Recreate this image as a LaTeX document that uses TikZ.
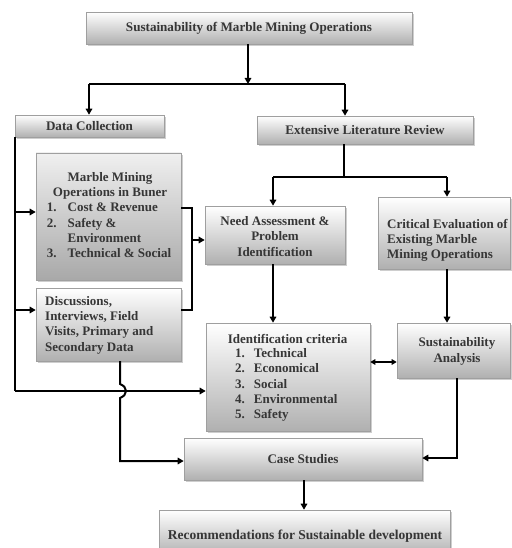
\documentclass[tikz,border=0pt]{standalone}
\usepackage{fontspec}
\setmainfont{Liberation Serif}
\usetikzlibrary{shadows,arrows.meta,calc}
\definecolor{txt}{HTML}{363636}
\tikzset{
  box/.style={draw=gray!75, line width=0.6pt, top color=white, bottom color=gray!62,
    drop shadow={shadow xshift=1.6pt,shadow yshift=-1.6pt,fill=gray!70,opacity=0.55},
    inner sep=0pt, text=txt, font=\fontsize{13.1}{15.3}\selectfont\bfseries},
  lbl/.style={inner sep=0pt, text=txt, font=\fontsize{13}{15.3}\selectfont\bfseries},
  ln/.style={line width=2pt},
  conn/.style={line width=2pt, -{Triangle[length=6pt,width=6.5pt]}},
  dconn/.style={line width=1.5pt, {Triangle[length=5pt,width=5.5pt]}-{Triangle[length=5pt,width=5.5pt]}}
}
\begin{document}
\begin{tikzpicture}[x=1pt,y=-1pt]
\useasboundingbox (0,0) rectangle (511,548);
% boxes
\node[box, minimum width=326pt, minimum height=32pt] (title) at (249,28) {Sustainability of Marble Mining Operations};
\node[box, minimum width=149pt, minimum height=22pt] (dc) at (89.5,126) {Data Collection};
\node[box, minimum width=216pt, minimum height=28pt] (elr) at (365,130) {Extensive Literature Review};
\node[box, minimum width=145pt, minimum height=127pt, top color=gray!12, bottom color=gray!68] (marble) at (108.5,216.5) {};
\node[box, minimum width=145pt, minimum height=73pt] (disc) at (108.5,324.5) {};
\node[box, minimum width=140pt, minimum height=58pt] (need) at (275,235) {};
\node[box, minimum width=132pt, minimum height=72pt] (crit) at (444,233) {};
\node[box, minimum width=164pt, minimum height=108pt] (ident) at (288,377) {};
\node[box, minimum width=113pt, minimum height=55pt] (sust) at (453.5,350.5) {};
\node[box, minimum width=238pt, minimum height=42pt] (case) at (303,459) {Case Studies};
\node[box, minimum width=291pt, minimum height=46pt] (rec) at (304.5,533) {};
% texts
\node[lbl] (marbleT) at (110,216.5) {\begin{tabular}{@{}l@{\hspace{11pt}}l@{}}
\multicolumn{2}{c}{Marble Mining}\\
\multicolumn{2}{c}{Operations in Buner}\\
1.& Cost \& Revenue\\
2.& Safety \&\\
 & Environment\\
3.& Technical \& Social
\end{tabular}};
\node[lbl, align=left, anchor=west] (discT) at (45,325) {Discussions,\\Interviews, Field\\Visits, Primary and\\Secondary Data};
\node[lbl, align=center] (needT) at (275,236.5) {Need Assessment \&\\Problem\\Identification};
\node[lbl, align=left, anchor=west] (critT) at (387,240.5) {Critical Evaluation of\\Existing Marble\\Mining Operations};
\node[lbl] (identH) at (287.5,339) {Identification criteria};
\node[lbl, anchor=west] (identL) at (235,385) {\begin{tabular}{@{}l@{\hspace{9pt}}l@{}}
1.& Technical\\
2.& Economical\\
3.& Social\\
4.& Environmental\\
5.& Safety
\end{tabular}};
\node[lbl, align=center] (sustT) at (457,351.5) {Sustainability\\Analysis};
\node[lbl, font=\fontsize{13.5}{15}\selectfont\bfseries] (recT) at (305,536) {Recommendations for Sustainable development};
% junction coordinates
\coordinate (j1) at (248,84);
\coordinate (j1l) at (89,84);
\coordinate (j1r) at (345,84);
\coordinate (j2) at (344,177);
\coordinate (j2l) at (273,177);
\coordinate (j2r) at (447,177);
\coordinate (spTop) at (15,137);
\coordinate (spA) at (15,212);
\coordinate (spB) at (15,310);
\coordinate (spC) at (15,391);
\coordinate (brA) at (192,208);
\coordinate (brB) at (192,310);
\coordinate (brM) at (192,240);
\coordinate (dTop) at (120,361);
\coordinate (dB1) at (120,384);
\coordinate (dB2) at (120,398);
\coordinate (dBot) at (120,461);
\coordinate (sBot) at (457,458);
% connectors
\draw[conn] (title.south -| j1) -- (j1);
\draw[ln] (j1l) -- (j1r);
\draw[conn] (j1l) -- (j1l |- dc.north);
\draw[conn] (j1r) -- (j1r |- elr.north);
\draw[ln] (spTop) -- (spC);
\draw[conn] (spA) -- (spA -| marble.west);
\draw[conn] (spB) -- (spB -| disc.west);
\draw[conn] (spC) -- (spC -| ident.west);
\draw[ln] (brA -| marble.east) -- (brA) -- (brB) -- (brB -| disc.east);
\draw[conn] (brM) -- (brM -| need.west);
\draw[ln] (elr.south -| j2) -- (j2);
\draw[ln] (j2l) -- (j2r);
\draw[conn] (j2l) -- (j2l |- need.north);
\draw[conn] (j2r) -- (j2r |- crit.north);
\draw[conn] (need.south -| j2l) -- (j2l |- ident.north);
\draw[conn] (crit.south -| j2r) -- (j2r |- sust.north);
\draw[dconn] (ident.east |- 0,362) -- (sust.west |- 0,362);
\draw[conn] (sust.south -| sBot) -- (sBot) -- (sBot -| case.east);
\draw[conn] (dTop) -- (dB1) .. controls (128,387) and (128,395) .. (dB2) -- (dBot) -- (dBot -| case.west);
\draw[conn] (case.south -| 304,0) -- (rec.north -| 304,0);
\end{tikzpicture}
\end{document}
